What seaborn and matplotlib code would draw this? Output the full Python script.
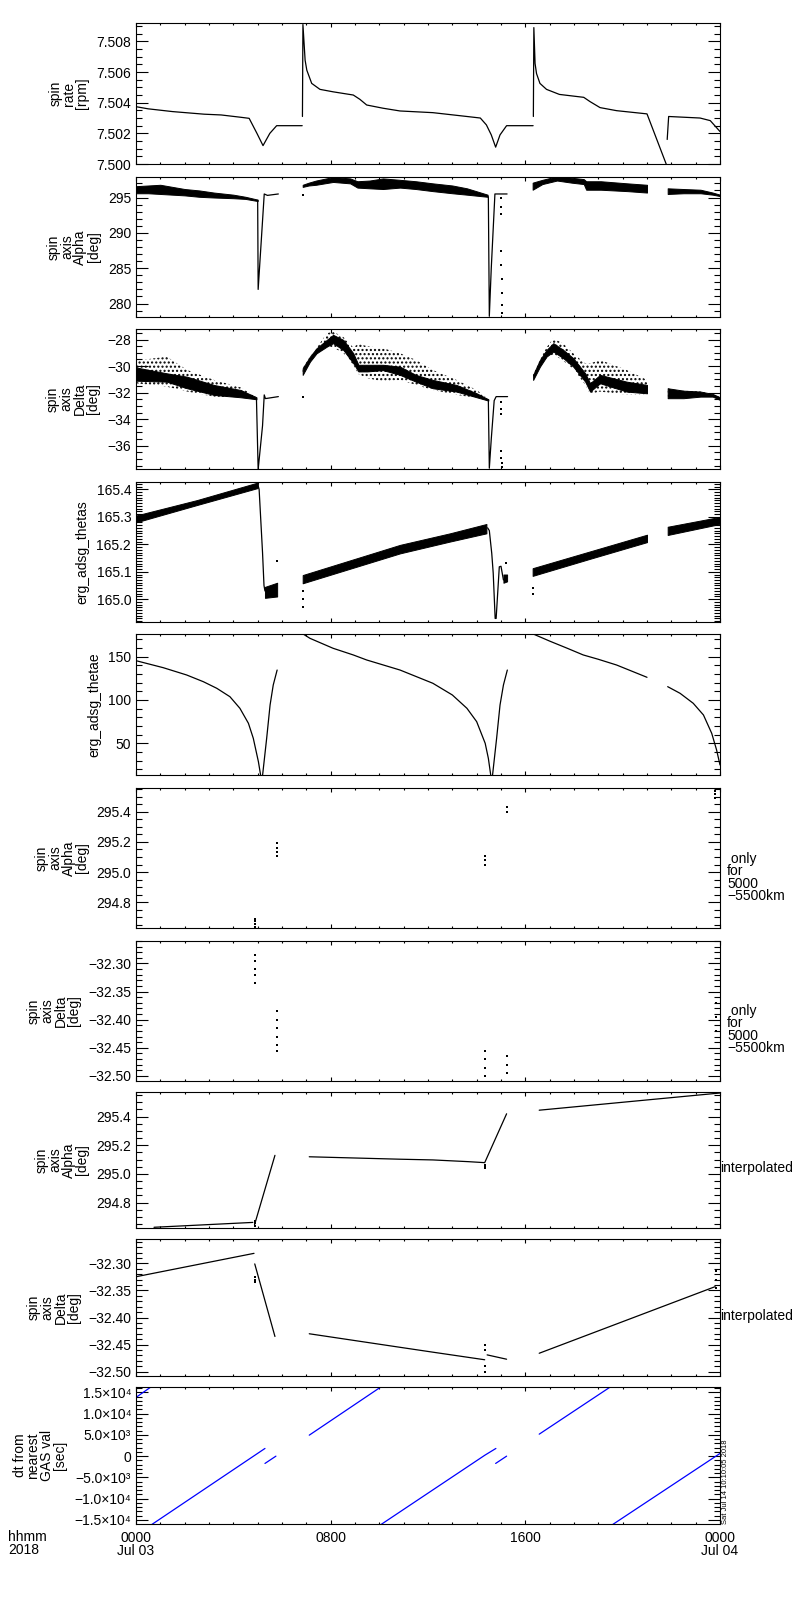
import matplotlib
matplotlib.use("Agg")
import numpy as np
import pandas as pd
import matplotlib.pyplot as plt
import seaborn as sns
from matplotlib.ticker import FixedLocator, MultipleLocator, FixedFormatter

# ------------------------------------------------------------------ data
# time axis: hours since 2018-07-03 00:00
X_TICKS = [0, 8, 16, 24]
X_TICK_LABELS = ["0000\nJul 03", "0800", "1600", "0000\nJul 04"]

# panel 1: spin rate [rpm]
RATE_T = [0.0, 0.5, 1.5, 2.8, 3.5, 4.3, 4.65, 4.97, 5.22, 5.5, 5.78, 6.83,
          6.84, 6.86, 6.95, 7.02, 7.22, 7.56, 8.1, 8.93, 9.2, 9.48, 10.15, 10.85, 12.2, 13.6,
          14.15, 14.4, 14.6, 14.78, 14.96, 15.23, 16.32,
          16.33, 16.35, 16.4, 16.46, 16.6, 16.87, 17.4, 18.4, 18.66, 19.07, 19.75, 21.0, 21.8,
          21.83, 21.89, 23.18, 23.6, 24.0]
RATE_V = [7.50374, 7.5036, 7.50342, 7.50325, 7.5032, 7.50305, 7.50298, 7.5020, 7.5012, 7.5020, 7.5025, 7.5025,
          7.5031, 7.5091, 7.50677, 7.50612, 7.50526, 7.50487, 7.50471, 7.5045, 7.50422, 7.50385, 7.50364, 7.50346, 7.50335, 7.5031,
          7.5030, 7.50255, 7.5019, 7.5011, 7.5019, 7.5025, 7.5025,
          7.5031, 7.5089, 7.50656, 7.5059, 7.50526, 7.50487, 7.50454, 7.50435, 7.50407, 7.50368, 7.50348, 7.50327, 7.49995,
          7.5016, 7.5031, 7.5030, 7.50283, 7.50212]
RATE_SEG = [0] * 12 + [1] * 21 + [2] * 13 + [3] * 5

# panel 2: spin axis alpha [deg]  (noisy band low/high + thin lines)
ALPHA_BAND_T = [0.0, 0.5, 1.0, 1.5, 2.0, 2.6, 3.2, 4.0, 4.5, 5.0,
                6.85, 7.1, 7.4, 8.1, 8.8, 9.1, 9.6, 10.15, 10.85, 11.5, 12.2, 13.0, 13.6, 14.45,
                16.3, 16.7, 17.3, 17.9, 18.4, 18.5, 19.1, 20.2, 21.0,
                21.85, 22.5, 23.2, 23.7, 24.0]
ALPHA_BAND_LO = [295.6, 295.6, 295.5, 295.4, 295.3, 295.1, 295.0, 294.9, 294.8, 294.5,
                 296.5, 296.7, 296.8, 297.2, 297.0, 296.4, 296.3, 296.2, 296.4, 296.2, 295.9, 295.6, 295.4, 295.1,
                 296.1, 296.9, 297.4, 297.1, 296.9, 296.1, 296.1, 295.9, 295.7,
                 295.5, 295.6, 295.6, 295.4, 295.2]
ALPHA_BAND_HI = [296.6, 296.7, 296.8, 296.5, 296.2, 296.0, 295.7, 295.4, 295.1, 294.7,
                 296.8, 297.1, 297.4, 297.9, 297.7, 297.3, 297.4, 297.7, 297.5, 297.3, 297.0, 296.7, 296.3, 295.4,
                 297.1, 297.5, 298.0, 297.8, 297.6, 297.3, 297.3, 297.0, 296.8,
                 296.3, 296.2, 296.1, 295.7, 295.4]
ALPHA_BAND_SEG = [0] * 10 + [1] * 14 + [2] * 9 + [3] * 5
ALPHA_LINE_T = [5.0, 5.02, 5.15, 5.27, 5.4, 5.85,
                14.48, 14.52, 14.6, 14.75, 15.25]
ALPHA_LINE_V = [294.6, 282.0, 289.0, 295.5, 295.3, 295.5,
                295.1, 278.2, 285.0, 295.5, 295.5]
ALPHA_LINE_SEG = [0] * 6 + [1] * 5
ALPHA_DOT_T = [15.0, 15.0, 15.0, 15.02, 15.02, 15.03, 15.03, 15.03, 15.03, 6.85]
ALPHA_DOT_V = [294.9, 293.7, 292.6, 287.5, 285.5, 283.5, 281.5, 279.8, 278.6, 295.3]

# panel 3: spin axis delta [deg]  (dense core band + scattered halo + lines)
DELTA_BAND_T = [0.0, 1.26, 2.1, 3.2, 4.3, 4.95,
                6.85, 7.15, 7.42, 7.84, 8.1, 8.52, 8.93, 9.14, 9.5, 10.15, 10.85, 11.5, 12.2, 13.17, 14.0, 14.48,
                16.32, 16.6, 16.87, 17.15, 17.56, 17.97, 18.46, 18.66, 19.07, 20.16, 21.0,
                21.85, 22.5, 23.2, 23.7, 24.0]
DELTA_CORE_HI = [-30.1, -30.54, -30.8, -31.42, -31.8, -32.35,
                 -30.16, -29.28, -28.65, -28.02, -27.64, -28.02, -29.03, -29.9, -29.9, -29.9, -30.04, -30.66, -31.04, -31.42, -32.05, -32.5,
                 -30.66, -29.53, -28.78, -28.27, -28.78, -29.4, -30.54, -31.29, -30.66, -31.17, -31.42,
                 -31.67, -31.85, -31.92, -32.1, -32.35]
DELTA_CORE_LO = [-31.1, -31.17, -31.67, -32.17, -32.35, -32.5,
                 -30.66, -29.66, -29.03, -28.53, -28.27, -28.78, -29.78, -30.4, -30.4, -30.3, -30.66, -31.17, -31.67, -31.92, -32.35, -32.6,
                 -31.04, -30.04, -29.28, -28.9, -29.4, -30.04, -31.17, -31.92, -31.29, -31.92, -32.05,
                 -32.42, -32.42, -32.3, -32.3, -32.55]
DELTA_HALO_HI = [-29.6, -29.28, -30.29, -31.04, -31.6, -32.35,
                 -30.16, -29.28, -28.65, -27.52, -27.4, -27.8, -28.6, -28.3, -28.5, -28.65, -29.03, -29.53, -30.3, -31.04, -31.8, -32.5,
                 -30.66, -29.53, -28.6, -27.9, -28.3, -29.03, -29.8, -29.8, -29.53, -30.29, -31.04,
                 -31.67, -31.85, -31.92, -32.1, -32.35]
DELTA_HALO_LO = [-31.3, -31.55, -31.92, -32.3, -32.4, -32.5,
                 -30.66, -29.66, -29.1, -28.6, -28.6, -29.0, -29.9, -30.6, -30.9, -31.17, -31.04, -31.42, -31.8, -32.17, -32.4, -32.6,
                 -31.04, -30.04, -29.4, -29.1, -29.6, -30.2, -31.4, -32.1, -31.92, -32.17, -32.17,
                 -32.42, -32.42, -32.3, -32.3, -32.55]
DELTA_BAND_SEG = [0] * 6 + [1] * 16 + [2] * 11 + [3] * 5
DELTA_LINE_T = [4.95, 5.02, 5.2, 5.27, 5.32, 5.85,
                14.48, 14.52, 14.6, 14.72, 14.8, 15.27]
DELTA_LINE_V = [-32.45, -37.8, -34.5, -32.17, -32.45, -32.3,
                -32.55, -37.7, -35.5, -32.6, -32.3, -32.3]
DELTA_LINE_SEG = [0] * 6 + [1] * 6
DELTA_DOT_T = [15.0, 15.0, 15.0, 15.02, 15.02, 15.03, 15.03, 6.85]
DELTA_DOT_V = [-32.7, -33.2, -33.6, -36.4, -36.9, -37.3, -37.6, -32.3]

# panel 4: erg_adsg_thetas (saw-tooth band + lines)
THETAS_BAND_T = [0.0, 2.5, 5.0, 5.3, 5.8, 6.85, 10.85, 12.9, 14.4, 15.1, 15.25,
                 16.3, 18.65, 21.0, 21.85, 24.0]
THETAS_BAND_LO = [165.28, 165.343, 165.405, 165.005, 165.01, 165.058, 165.167, 165.21, 165.24, 165.06, 165.065,
                  165.085, 165.147, 165.208, 165.234, 165.274]
THETAS_BAND_HI = [165.305, 165.361, 165.425, 165.045, 165.06, 165.088, 165.198, 165.24, 165.274, 165.09, 165.09,
                  165.113, 165.174, 165.235, 165.264, 165.30]
THETAS_BAND_SEG = [0, 0, 0, 1, 1, 2, 2, 2, 2, 3, 3, 4, 4, 4, 5, 5]
THETAS_LINE_T = [5.0, 5.06, 5.2, 5.26, 5.3,
                 14.45, 14.52, 14.62, 14.68, 14.76, 14.8, 14.93, 15.0, 15.1]
THETAS_LINE_V = [165.42, 165.40, 165.17, 165.05, 165.03,
                 165.26, 165.25, 165.167, 165.095, 164.93, 164.93, 165.118, 165.12, 165.07]
THETAS_LINE_SEG = [0] * 5 + [1] * 9
THETAS_DOT_T = [5.8, 6.85, 6.85, 6.85, 15.2, 16.3, 16.3]
THETAS_DOT_V = [165.14, 165.03, 165.0, 164.97, 165.133, 165.04, 165.02]

# panel 5: erg_adsg_thetae
THETAE_T = [0.0, 1.12, 2.08, 2.77, 3.32, 3.86, 4.27, 4.62, 4.82, 5.03, 5.17, 5.37, 5.51, 5.64, 5.8,
            6.85, 7.15, 8.1, 8.93, 9.48, 10.85, 12.2, 13.0, 13.6, 14.0, 14.35, 14.48, 14.62, 14.82, 14.96, 15.1, 15.26,
            16.3, 17.0, 17.7, 18.38, 19.0, 19.75, 21.0,
            21.85, 22.36, 22.9, 23.32, 23.66, 23.86, 24.0]
THETAE_V = [145.4, 137.3, 128.9, 121.1, 113.5, 103.8, 90.4, 73.1, 55.8, 28.8, 5.0, 55.8, 94.2, 117.3, 134.6,
            176.5, 171.2, 159.7, 152.0, 146.2, 134.6, 119.3, 105.8, 90.4, 75.0, 50.0, 32.7, 5.0, 55.8, 94.2, 117.3, 134.6,
            176.5, 168.0, 160.0, 152.0, 147.0, 140.4, 126.2,
            115.4, 107.7, 96.2, 82.7, 61.5, 42.3, 25.0]
THETAE_SEG = [0] * 15 + [1] * 17 + [2] * 7 + [3] * 7

# panel 6: spin axis alpha only for 5000-5500 km
ONLY_A_T = [4.88, 4.88, 4.88, 4.88, 5.78, 5.78, 5.78, 5.78, 14.33, 14.33, 14.33, 15.23, 15.23, 23.8, 23.8, 23.8]
ONLY_A_V = [294.635, 294.655, 294.675, 294.69, 295.11, 295.135, 295.16, 295.19,
            295.05, 295.08, 295.11, 295.40, 295.43, 295.49, 295.515, 295.54]

# panel 7: spin axis delta only for 5000-5500 km
ONLY_D_T = [4.88, 4.88, 4.88, 4.88, 4.88, 5.78, 5.78, 5.78, 5.78, 5.78, 5.78,
            14.33, 14.33, 14.33, 14.33, 15.23, 15.23, 15.23, 23.85, 23.85, 23.85]
ONLY_D_V = [-32.285, -32.295, -32.31, -32.32, -32.335, -32.385, -32.40, -32.415, -32.43, -32.445, -32.455,
            -32.455, -32.47, -32.485, -32.50, -32.465, -32.48, -32.495, -32.37, -32.395, -32.42]

# panel 8: spin axis alpha interpolated
INT_A_T = [0.74, 4.8, 4.87, 5.71, 7.12, 10.85, 12.2, 13.65, 14.33, 15.23, 16.57, 24.0]
INT_A_V = [294.628, 294.662, 294.645, 295.13, 295.12, 295.103, 295.098, 295.086, 295.079, 295.42, 295.445, 295.565]
INT_A_SEG = [0, 0, 1, 1, 2, 2, 2, 2, 2, 2, 3, 3]
INT_A_DOT_T = [4.87, 4.87, 4.87, 14.35, 14.35, 14.35]
INT_A_DOT_V = [294.64, 294.655, 294.67, 295.06, 295.05, 295.04]

# panel 9: spin axis delta interpolated
INT_D_T = [0.0, 4.85, 4.88, 5.71, 7.12, 10.85, 12.2, 14.33, 14.43, 15.23, 16.57, 23.8]
INT_D_V = [-32.3247, -32.2815, -32.301, -32.435, -32.43, -32.455, -32.464, -32.478, -32.469, -32.477, -32.466, -32.343]
INT_D_SEG = [0, 0, 1, 1, 2, 2, 2, 2, 3, 3, 4, 4]
INT_D_DOT_T = [4.88, 4.88, 4.88, 14.35, 14.35, 14.35, 14.35, 23.85, 23.85, 23.85]
INT_D_DOT_V = [-32.325, -32.33, -32.335, -32.45, -32.46, -32.49, -32.50, -32.315, -32.33, -32.345]

# panel 10: dt from nearest GAS val [sec]
DT_T = [0.0, 0.65, 0.56, 5.3, 5.3, 5.75, 7.12, 10.1, 9.98, 14.34, 14.79, 14.78, 15.23, 16.57, 19.53, 19.5, 24.0]
DT_V = [13800, 16400, -16400, 1807, -1713, 0, 4929, 16400, -16400, 235, 1807, -1713, 0, 5163, 16400, -16400, 634]
DT_SEG = [0, 0, 1, 1, 2, 2, 3, 3, 4, 4, 4, 5, 5, 6, 6, 7, 7]

# axis ticks / labels
Y_TICKS = [
    [7.500, 7.502, 7.504, 7.506, 7.508],
    [280, 285, 290, 295],
    [-36, -34, -32, -30, -28],
    [165.0, 165.1, 165.2, 165.3, 165.4],
    [50, 100, 150],
    [294.8, 295.0, 295.2, 295.4],
    [-32.50, -32.45, -32.40, -32.35, -32.30],
    [294.8, 295.0, 295.2, 295.4],
    [-32.50, -32.45, -32.40, -32.35, -32.30],
    [-15000, -10000, -5000, 0, 5000, 10000, 15000],
]
Y_TICK_LABELS = [
    ["7.500", "7.502", "7.504", "7.506", "7.508"],
    ["280", "285", "290", "295"],
    ["\u221236", "\u221234", "\u221232", "\u221230", "\u221228"],
    ["165.0", "165.1", "165.2", "165.3", "165.4"],
    ["50", "100", "150"],
    ["294.8", "295.0", "295.2", "295.4"],
    ["\u221232.50", "\u221232.45", "\u221232.40", "\u221232.35", "\u221232.30"],
    ["294.8", "295.0", "295.2", "295.4"],
    ["\u221232.50", "\u221232.45", "\u221232.40", "\u221232.35", "\u221232.30"],
    ["\u22121.5\u00d710\u2074", "\u22121.0\u00d710\u2074", "\u22125.0\u00d710\u00b3", "0",
     "5.0\u00d710\u00b3", "1.0\u00d710\u2074", "1.5\u00d710\u2074"],
]
Y_MINOR = [0.0005, 1, 0.5, 0.01, 10, 0.05, 0.01, 0.05, 0.01, 1000]
Y_LIMS = [(7.500, 7.5092), (278.1, 297.9), (-37.76, -27.2), (164.917, 165.427), (13.4, 176.2),
          (294.63, 295.557), (-32.509, -32.26), (294.623, 295.572), (-32.508, -32.255), (-15940, 16245)]
Y_LABELS = ["spin\nrate\n[rpm]", "spin\naxis\nAlpha\n[deg]", "spin\naxis\nDelta\n[deg]",
            "erg_adsg_thetas", "erg_adsg_thetae", "spin\naxis\nAlpha\n[deg]", "spin\naxis\nDelta\n[deg]",
            "spin\naxis\nAlpha\n[deg]", "spin\naxis\nDelta\n[deg]", "dt from\nnearest\nGAS val\n[sec]"]

# ------------------------------------------------------------------ style
sns.set_theme(style="ticks", rc={
    "axes.edgecolor": "black", "axes.linewidth": 0.8,
    "xtick.color": "black", "ytick.color": "black",
    "axes.labelcolor": "black", "text.color": "black",
    "hatch.linewidth": 1.0,
})
plt.rcParams["font.family"] = ["Liberation Sans", "DejaVu Sans"]
plt.rcParams["font.size"] = 10

W, H = 800, 1600
fig = plt.figure(figsize=(8, 16), dpi=100)
fig.patch.set_facecolor("white")

PANEL_PX = [(23, 164), (177, 317), (329, 469), (482, 622), (634, 775),
            (788, 928), (941, 1081), (1092, 1228), (1239, 1376), (1387, 1524)]
AX_L, AX_R = 136, 720

axes = []
for top, bot in PANEL_PX:
    ax = fig.add_axes([AX_L / W, 1 - bot / H, (AX_R - AX_L) / W, (bot - top) / H])
    ax.set_facecolor("white")
    axes.append(ax)

LW = 0.9


def seg_lines(ax, t, v, seg, color="black"):
    df = pd.DataFrame({"t": t, "v": v, "seg": seg})
    sns.lineplot(data=df, x="t", y="v", units="seg", estimator=None, sort=False,
                 color=color, linewidth=LW, ax=ax, legend=False)


def seg_bands(ax, t, lo, hi, seg, hatch=None):
    df = pd.DataFrame({"t": t, "lo": lo, "hi": hi, "seg": seg})
    for _, g in df.groupby("seg"):
        if hatch:
            ax.fill_between(g["t"], g["lo"], g["hi"], facecolor="none", edgecolor="black",
                            hatch=hatch, linewidth=0)
        else:
            ax.fill_between(g["t"], g["lo"], g["hi"], facecolor="black", edgecolor="black",
                            linewidth=0.7)


def dots(ax, t, v, color="black"):
    sns.scatterplot(x=t, y=v, s=3, marker="s", color=color, linewidth=0, ax=ax, legend=False)


# panel 1
seg_lines(axes[0], RATE_T, RATE_V, RATE_SEG)
# panel 2
seg_bands(axes[1], ALPHA_BAND_T, ALPHA_BAND_LO, ALPHA_BAND_HI, ALPHA_BAND_SEG)
seg_lines(axes[1], ALPHA_LINE_T, ALPHA_LINE_V, ALPHA_LINE_SEG)
dots(axes[1], ALPHA_DOT_T, ALPHA_DOT_V)
# panel 3
seg_bands(axes[2], DELTA_BAND_T, DELTA_HALO_LO, DELTA_HALO_HI, DELTA_BAND_SEG, hatch="....")
seg_bands(axes[2], DELTA_BAND_T, DELTA_CORE_LO, DELTA_CORE_HI, DELTA_BAND_SEG)
seg_lines(axes[2], DELTA_LINE_T, DELTA_LINE_V, DELTA_LINE_SEG)
dots(axes[2], DELTA_DOT_T, DELTA_DOT_V)
# panel 4
seg_bands(axes[3], THETAS_BAND_T, THETAS_BAND_LO, THETAS_BAND_HI, THETAS_BAND_SEG)
seg_lines(axes[3], THETAS_LINE_T, THETAS_LINE_V, THETAS_LINE_SEG)
dots(axes[3], THETAS_DOT_T, THETAS_DOT_V)
# panel 5
seg_lines(axes[4], THETAE_T, THETAE_V, THETAE_SEG)
# panel 6, 7
dots(axes[5], ONLY_A_T, ONLY_A_V)
dots(axes[6], ONLY_D_T, ONLY_D_V)
# panel 8, 9
seg_lines(axes[7], INT_A_T, INT_A_V, INT_A_SEG)
dots(axes[7], INT_A_DOT_T, INT_A_DOT_V)
seg_lines(axes[8], INT_D_T, INT_D_V, INT_D_SEG)
dots(axes[8], INT_D_DOT_T, INT_D_DOT_V)
# panel 10
seg_lines(axes[9], DT_T, DT_V, DT_SEG, color="#0000ff")

# ------------------------------------------------------------------ axes formatting
for i, ax in enumerate(axes):
    ax.set_xlim(0, 24)
    ax.set_ylim(*Y_LIMS[i])
    ax.xaxis.set_major_locator(FixedLocator(X_TICKS))
    ax.xaxis.set_minor_locator(MultipleLocator(1))
    ax.yaxis.set_major_locator(FixedLocator(Y_TICKS[i]))
    ax.yaxis.set_major_formatter(FixedFormatter(Y_TICK_LABELS[i]))
    ax.yaxis.set_minor_locator(MultipleLocator(Y_MINOR[i]))
    ax.tick_params(axis="both", which="both", direction="in", top=True, right=True,
                   width=0.8, colors="black", labelsize=10)
    ax.tick_params(axis="y", which="major", length=8.8, pad=3.5)
    ax.tick_params(axis="y", which="minor", length=4.6)
    ax.tick_params(axis="x", which="major", length=3.0, pad=5)
    ax.tick_params(axis="x", which="minor", length=1.6)
    ax.set_ylabel(Y_LABELS[i], fontsize=10, linespacing=0.95, labelpad=5,
                  multialignment="center")
    ax.set_xlabel("")
    for s in ax.spines.values():
        s.set_visible(True)
        s.set_color("black")
        s.set_linewidth(0.8)
    if i < len(axes) - 1:
        ax.set_xticklabels([])
    else:
        ax.set_xticklabels(X_TICK_LABELS)
        for lbl in ax.get_xticklabels():
            lbl.set_linespacing(0.95)

# side annotations
fig.text(727 / W, 1 - 852 / H, " only\nfor\n5000\n\u22125500km", va="top", ha="left",
         fontsize=10, linespacing=0.85)
fig.text(727 / W, 1 - 1004 / H, " only\nfor\n5000\n\u22125500km", va="top", ha="left",
         fontsize=10, linespacing=0.85)
fig.text(720 / W, 1 - 1168 / H, "interpolated", va="center", ha="left", fontsize=10)
fig.text(720 / W, 1 - 1316 / H, "interpolated", va="center", ha="left", fontsize=10)
fig.text(8 / W, 1 - 1530 / H, "hhmm\n2018", va="top", ha="left", fontsize=10, linespacing=0.95)
fig.text(722 / W, 1 - 1524 / H, "Sat Jul 14 10:10:05 2018", rotation=90, va="bottom",
         ha="left", fontsize=5.5)

fig.savefig("out.png", dpi=100, facecolor="white")
